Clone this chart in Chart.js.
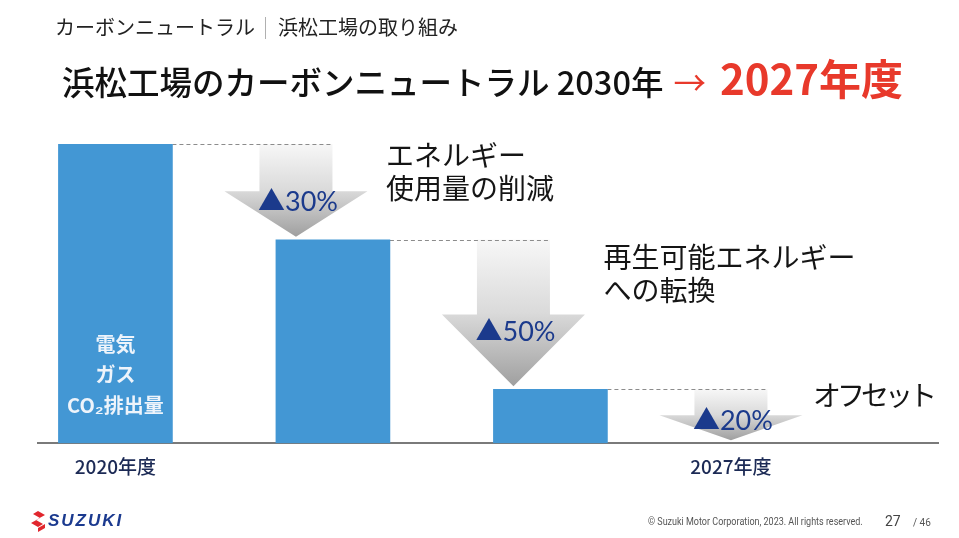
<!DOCTYPE html>
<html><head><meta charset="utf-8">
<script src="https://cdn.jsdelivr.net/npm/chart.js@4"></script>
<style>
html,body{margin:0;padding:0;background:#fff;}
#wrap{position:relative;width:959px;height:538px;overflow:hidden;font-family:'Noto Sans CJK JP',sans-serif;}
#c{position:absolute;left:0;top:0;}
.hdr{position:absolute;left:55px;top:13px;font-size:20px;color:#222;white-space:nowrap;line-height:28px;}
.sep{display:inline-block;width:1px;height:22px;background:#b0b0b0;margin:0 12px 0 10px;vertical-align:-4px;}
.title{position:absolute;left:62px;top:50px;white-space:nowrap;font-size:32.5px;font-weight:500;color:#111;line-height:54px;}
.red{color:#e8392b;}
.arr{margin-left:10px;margin-right:14px;font-weight:400;}
.big{font-size:42px;font-weight:700;}
.logo{position:absolute;left:30px;top:510px;height:22px;white-space:nowrap;}
.logo svg{position:absolute;left:0;top:0;}
.logo span{position:absolute;left:18px;top:0px;font-family:'Liberation Sans',Arial,sans-serif;font-weight:700;font-style:italic;font-size:17px;letter-spacing:2px;color:#1b3a8f;line-height:22px;}
.copy{position:absolute;left:648px;top:515px;font-family:'Liberation Sans Narrow','Roboto',sans-serif;font-size:10px;color:#555;white-space:nowrap;line-height:14px;transform:scaleX(0.9);transform-origin:0 0;}
.pg{position:absolute;left:885px;top:512px;font-family:'Liberation Sans Narrow','Roboto',sans-serif;font-size:14px;color:#444;line-height:18px;}
.pgt{position:absolute;left:913px;top:516px;font-family:'Liberation Sans Narrow','Roboto',sans-serif;font-size:10px;color:#555;line-height:14px;}
</style>
</head>
<body>
<div id="wrap">
<canvas id="c" width="959" height="538"></canvas>
<div class="hdr">カーボンニュートラル<span class="sep"></span>浜松工場の取り組み</div>
<div class="title">浜松工場のカーボンニュートラル 2030年<span class="red arr">→</span><span class="red big">2027年度</span></div>
<div class="logo"><svg width="18" height="22" viewBox="0 0 18 22"><polygon points="8,1 15,5 6,10 13,14 8,17 1,13 10,8 3,4" fill="#e1262d"/><polygon points="15,14 15,18 8,22 8,18" fill="#e1262d"/></svg><span>SUZUKI</span></div>
<div class="copy">© Suzuki Motor Corporation, 2023. All rights reserved.</div>
<div class="pg">27</div>
<div class="pgt">/ 46</div>
</div>
<script>
// ---- data ----
const stages = ['2020年度', '省エネ後', '再エネ後', '2027年度'];
const stageValues = [100, 68, 18, 0];
const reductionLabels = ['▲30%', '▲50%', '▲20%'];
const stepNotes = [['エネルギー', '使用量の削減'], ['再生可能エネルギー', 'への転換'], ['オフセット']];
const barInnerText = ['電気', 'ガス', 'CO₂排出量'];
const tickLabels = ['2020年度', '2027年度'];

const ARROW_POS = 0.83; // arrow sits this far (in stage units) after each stage

const waterfallPlugin = {
  id: 'waterfall',
  beforeDatasetsDraw(chart) {
    const {ctx, scales: {x, y}} = chart;
    const meta = chart.getDatasetMeta(0);
    for (let i = 0; i < stageValues.length - 1; i++) {
      const bar = meta.data[i];
      const topY = y.getPixelForValue(stageValues[i]);
      const tipY = y.getPixelForValue(stageValues[i + 1]) - 3;
      const cx = x.getPixelForValue(i + ARROW_POS);
      const len = tipY - topY;
      const headY = topY + len * 0.51;
      const sw = 36.5, hw = 71.5;
      const g = ctx.createLinearGradient(0, topY, 0, tipY);
      g.addColorStop(0, '#f7f7f7');
      g.addColorStop(0.5, '#dadada');
      g.addColorStop(1, '#9f9f9f');
      ctx.save();
      ctx.fillStyle = g;
      ctx.beginPath();
      ctx.moveTo(cx - sw, topY);
      ctx.lineTo(cx + sw, topY);
      ctx.lineTo(cx + sw, headY);
      ctx.lineTo(cx + hw, headY);
      ctx.lineTo(cx, tipY);
      ctx.lineTo(cx - hw, headY);
      ctx.lineTo(cx - sw, headY);
      ctx.closePath();
      ctx.fill();
      ctx.strokeStyle = '#8c8c8c';
      ctx.lineWidth = 1;
      ctx.setLineDash([4, 3]);
      ctx.beginPath();
      const yy = Math.round(topY) + 0.5;
      ctx.moveTo(bar.x + bar.width / 2, yy);
      ctx.lineTo(cx + sw, yy);
      ctx.stroke();
      ctx.restore();
    }
  },
  afterDatasetsDraw(chart) {
    const {ctx, scales: {x, y}} = chart;
    const meta = chart.getDatasetMeta(0);
    ctx.save();
    for (let i = 0; i < stageValues.length - 1; i++) {
      const topY = y.getPixelForValue(stageValues[i]);
      const tipY = y.getPixelForValue(stageValues[i + 1]) - 3;
      const cx = x.getPixelForValue(i + ARROW_POS);
      const len = tipY - topY;
      ctx.font = '27px Lato, "Noto Sans CJK JP", sans-serif';
      ctx.fillStyle = '#1b3a8c';
      ctx.textAlign = 'center';
      ctx.textBaseline = 'middle';
      ctx.fillText(reductionLabels[i], cx + 2, topY + len * 0.63);
      ctx.font = '28px "Noto Sans CJK JP", sans-serif';
      ctx.fillStyle = '#151515';
      ctx.textAlign = 'left';
      const single = stepNotes[i].length === 1;
      if (single) ctx.letterSpacing = '-4px';
      stepNotes[i].forEach((t, k) => {
        ctx.fillText(t, cx + (single ? 82 : 90), topY + len * 0.12 + k * 33);
      });
      ctx.letterSpacing = '0px';
    }
    const b0 = meta.data[0];
    ctx.font = 'bold 20px "Noto Sans CJK JP", sans-serif';
    ctx.fillStyle = '#eef4fb';
    ctx.textAlign = 'center';
    ctx.textBaseline = 'middle';
    const n = barInnerText.length;
    barInnerText.forEach((t, k) => {
      ctx.fillText(t, b0.x, b0.base - 38 - 30.5 * (n - 1 - k));
    });
    ctx.restore();
  }
};

new Chart(document.getElementById('c'), {
  type: 'bar',
  data: {
    datasets: [{
      label: 'CO₂排出量',
      data: stageValues.map((v, i) => ({x: i, y: v})),
      backgroundColor: (c) => (c.raw && c.raw.y > 0) ? '#4397d4' : 'rgba(0,0,0,0)',
      borderWidth: 0,
      barThickness: 114
    }]
  },
  options: {
    responsive: false,
    animation: false,
    devicePixelRatio: 1,
    layout: {padding: {left: 38, right: 21, top: 144, bottom: 48}},
    plugins: {legend: {display: false}, tooltip: {enabled: false}},
    scales: {
      x: {
        type: 'linear',
        offset: false,
        bounds: 'data',
        min: -0.356,
        max: 3.782,
        grid: {display: false, drawTicks: false, offset: false},
        border: {display: true, color: '#7a7a7a', width: 2},
        afterBuildTicks: (s) => { s.ticks = [{value: 0}, {value: stageValues.length - 2 + ARROW_POS}]; },
        ticks: {
          padding: 12,
          color: '#1c2a55',
          font: {family: '"Noto Sans CJK JP"', size: 19, weight: '500'},
          maxRotation: 0,
          autoSkip: false,
          callback: (v, i) => tickLabels[i]
        }
      },
      y: {display: false, min: 0, max: 100}
    }
  },
  plugins: [waterfallPlugin]
});
</script>
</body></html>
